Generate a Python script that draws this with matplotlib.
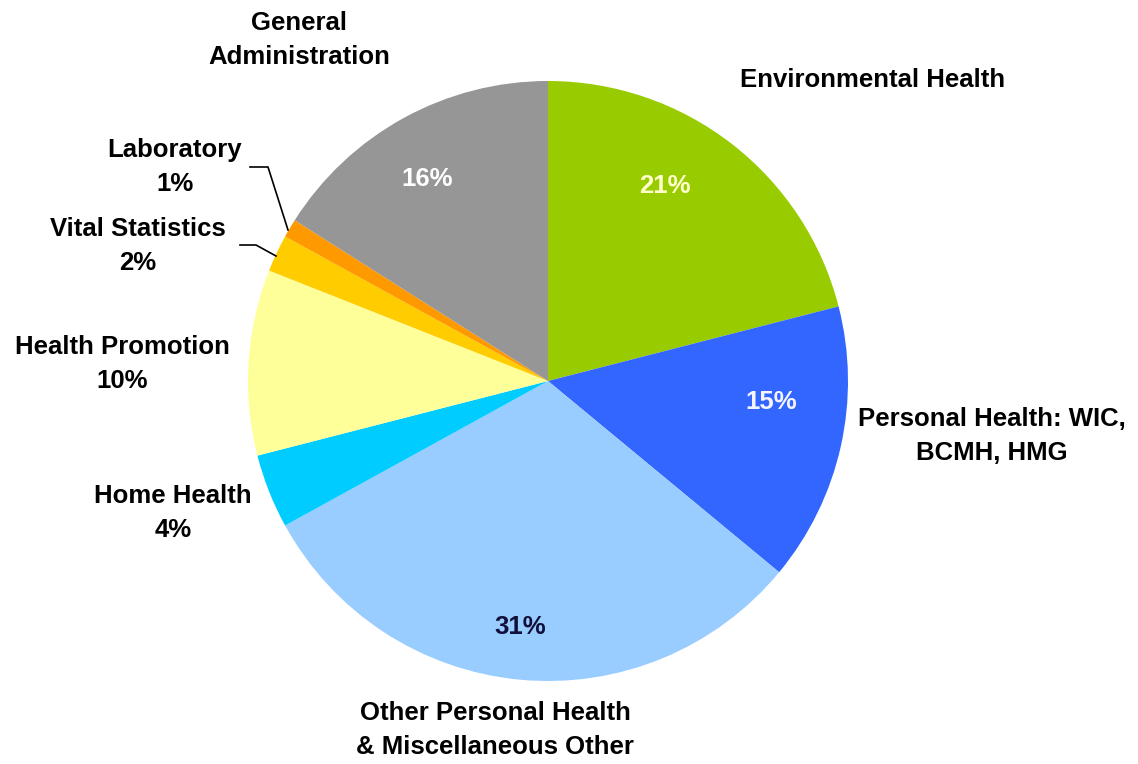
import matplotlib
matplotlib.use('Agg')
import matplotlib.pyplot as plt

#%% Data
categories = ['Environmental Health', 'Personal Health: WIC,\nBCMH, HMG',
              'Other Personal Health\n& Miscellaneous Other', 'Home Health',
              'Health Promotion', 'Vital Statistics', 'Laboratory',
              'General\nAdministration']
shares = [21, 15, 31, 4, 10, 2, 1, 16]
colors = ['#99CC00', '#3366FF', '#99CCFF', '#00CCFF', '#FFFF99', '#FFCC00',
          '#FF9900', '#969696']

#%% Figure in pixel coordinates
W, H = 1138, 764
fig = plt.figure(figsize=(W / 100, H / 100), dpi=100)
ax = fig.add_axes([0, 0, 1, 1])

cx, cy, R = 548, 381, 300
wedges, _ = ax.pie(shares, colors=colors, startangle=-90, counterclock=True,
                   center=(cx, cy), radius=R, frame=True,
                   wedgeprops=dict(linewidth=0))
ax.set_xlim(0, W)
ax.set_ylim(H, 0)
ax.set_aspect('equal')
ax.axis('off')

font = dict(family='Liberation Sans', fontweight='bold', fontsize=18.5,
            ha='center', va='center', linespacing=1.55)

# percentage labels inside the big slices
inside = {0: ((665, 186), '#FFFFCC'), 1: ((771, 402), '#F4F4FF'),
          2: ((520, 627), '#10103A'), 7: ((427, 179), '#FFFFFF')}
for i, ((x, y), c) in inside.items():
    ax.text(x, y, f'{shares[i]}%', color=c, **font)

# category labels outside
outside = {0: (873, 80), 1: (992, 436), 2: (495, 730), 7: (299, 40)}
for i, (x, y) in outside.items():
    ax.text(x, y, categories[i], color='black', **font)

# small slices carry name and percentage outside
small = {3: (173, 513), 4: (122, 364), 5: (138, 246), 6: (175, 167)}
for i, (x, y) in small.items():
    ax.text(x, y, f'{categories[i]}\n{shares[i]}%', color='black', **font)

# leader lines
ax.plot([250, 268, 288], [167, 167, 230], color='black', lw=1.2)
ax.plot([240, 256, 276], [245, 245, 256], color='black', lw=1.2)

fig.savefig('out.png', dpi=100)
